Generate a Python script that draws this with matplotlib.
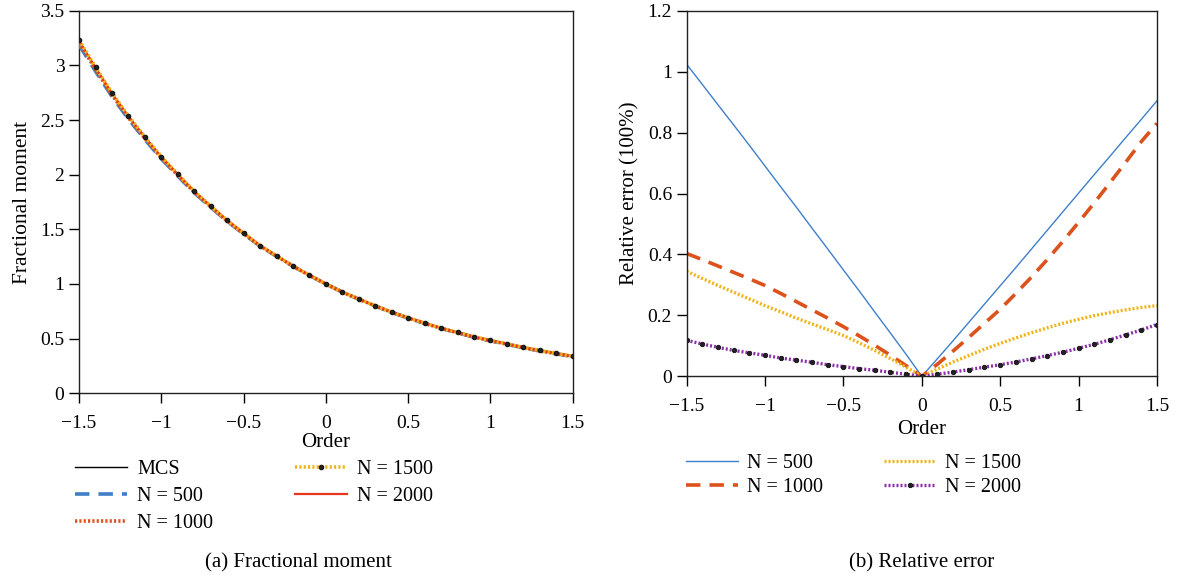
import matplotlib

matplotlib.use("Agg")
import matplotlib.pyplot as plt
import numpy as np

plt.rcParams["font.family"] = ["Liberation Serif", "DejaVu Serif"]
plt.rcParams["font.size"] = 14
plt.rcParams["axes.unicode_minus"] = True

order = np.round(np.arange(-1.5, 1.51, 0.1), 1)

# Monte Carlo reference of the fractional moment
mcs = [3.22, 2.975, 2.74, 2.53, 2.34, 2.16, 2.00, 1.845, 1.71, 1.58, 1.463,
       1.35, 1.256, 1.164, 1.079, 1.00, 0.926, 0.862, 0.80, 0.742, 0.69,
       0.642, 0.596, 0.556, 0.516, 0.483, 0.452, 0.419, 0.391, 0.364, 0.339]

# relative error (%) of each sample size
err_500 = [1.024, 0.958, 0.891, 0.825, 0.758, 0.690, 0.622, 0.555, 0.486,
           0.418, 0.349, 0.281, 0.211, 0.142, 0.072, 0.0, 0.058, 0.117, 0.177,
           0.237, 0.297, 0.357, 0.418, 0.479, 0.540, 0.601, 0.662, 0.722,
           0.783, 0.843, 0.904]
err_1000 = [0.403, 0.383, 0.362, 0.341, 0.320, 0.298, 0.272, 0.245, 0.218,
            0.191, 0.163, 0.133, 0.102, 0.069, 0.035, 0.0, 0.040, 0.083,
            0.128, 0.174, 0.220, 0.272, 0.326, 0.383, 0.443, 0.505, 0.569,
            0.635, 0.702, 0.770, 0.830]
err_1500 = [0.345, 0.321, 0.298, 0.276, 0.254, 0.232, 0.212, 0.191, 0.172,
            0.153, 0.134, 0.110, 0.085, 0.058, 0.030, 0.0, 0.024, 0.047,
            0.068, 0.089, 0.108, 0.126, 0.143, 0.159, 0.174, 0.187, 0.199,
            0.209, 0.218, 0.226, 0.232]
err_2000 = [0.118, 0.106, 0.095, 0.085, 0.077, 0.069, 0.060, 0.053, 0.046,
            0.038, 0.032, 0.025, 0.020, 0.013, 0.007, 0.0, 0.007, 0.014,
            0.022, 0.030, 0.038, 0.047, 0.057, 0.068, 0.079, 0.092, 0.105,
            0.120, 0.136, 0.152, 0.170]

mcs = np.array(mcs)
est_500 = mcs * (1 - np.array(err_500) / 100)
est_1000 = mcs * (1 - np.array(err_1000) / 100)
est_1500 = mcs * (1 + np.array(err_1500) / 100)
est_2000 = mcs * (1 + np.array(err_2000) / 100)

BLUE = "#3f7fc8"
ORANGE = "#dc521c"
YELLOW = "#f0b418"
PURPLE = "#8a2fa8"
RED = "#e6361e"

fig = plt.figure(figsize=(11.78, 5.81), dpi=100)
ax1 = fig.add_axes([0.0671, 0.3231, 0.4191, 0.6585])
ax2 = fig.add_axes([0.5829, 0.3523, 0.3992, 0.6293])


def style_axes(ax, xlabel_pad):
    ax.tick_params(direction="out", length=7, width=1, top=False, right=False)
    ax.tick_params(axis="x", pad=8.5)
    ax.tick_params(axis="y", pad=3.5)
    for sp in ax.spines.values():
        sp.set_linewidth(1.0)
        sp.set_color("#222222")
    ax.set_xlim(-1.5, 1.5)
    ax.set_xticks([-1.5, -1, -0.5, 0, 0.5, 1, 1.5])
    ax.set_xticklabels(["\u22121.5", "\u22121", "\u22120.5", "0", "0.5", "1", "1.5"])
    ax.set_xlabel("Order", fontsize=15, labelpad=xlabel_pad)


# (a) fractional moment
ax1.plot(order, mcs, color="black", lw=1.0, label="MCS", zorder=2)
ax1.plot(order, est_500, color=BLUE, lw=2.6, ls=(0, (4, 2.5)), label="N = 500", zorder=3)
ax1.plot(order, est_1000, color=ORANGE, lw=2.6, ls=(0, (0.6, 0.6)), label="N = 1000", zorder=3)
ax1.plot(order, est_1500, color=YELLOW, lw=2.6, ls=(0, (0.6, 0.6)), marker="o",
         ms=3.2, mfc="#222222", mec="#111111", mew=0.8, label="N = 1500", zorder=5)
ax1.plot(order, est_2000, color=RED, lw=1.6, label="N = 2000", zorder=4)
style_axes(ax1, 1)
ax1.set_ylim(0, 3.5)
ax1.set_yticks([0, 0.5, 1, 1.5, 2, 2.5, 3, 3.5])
ax1.set_yticklabels(["0", "0.5", "1", "1.5", "2", "2.5", "3", "3.5"])
ax1.set_ylabel("Fractional moment", fontsize=15.5, labelpad=6)
ax1.legend(loc="upper left", bbox_to_anchor=(0.0637, 0.208), bbox_transform=fig.transFigure,
           ncol=2, frameon=False, fontsize=14.5, handlelength=2.6, handletextpad=0.5,
           columnspacing=4.05, labelspacing=0.38, borderaxespad=0, borderpad=0)

# (b) relative error
ax2.plot(order, err_500, color=BLUE, lw=1.0, label="N = 500")
ax2.plot(order, err_1000, color=ORANGE, lw=2.6, ls=(0, (4, 2.5)), label="N = 1000")
ax2.plot(order, err_1500, color=YELLOW, lw=2.4, ls=(0, (0.6, 0.6)), label="N = 1500")
ax2.plot(order, err_2000, color=PURPLE, lw=2.4, ls=(0, (0.6, 0.6)), marker="o",
         ms=3.2, mfc="#222222", mec="#111111", mew=0.6, label="N = 2000")
style_axes(ax2, 3.5)
ax2.set_ylim(0, 1.2)
ax2.set_yticks([0, 0.2, 0.4, 0.6, 0.8, 1, 1.2])
ax2.set_yticklabels(["0", "0.2", "0.4", "0.6", "0.8", "1", "1.2"])
ax2.set_ylabel("Relative error (100%)", fontsize=15, labelpad=6)
ax2.legend(loc="upper left", bbox_to_anchor=(0.5823, 0.219), bbox_transform=fig.transFigure,
           ncol=2, frameon=False, fontsize=14.5, handlelength=2.6, handletextpad=0.45,
           columnspacing=3.0, labelspacing=0.25, borderaxespad=0, borderpad=0)

fig.text(0.253, 0.031, "(a) Fractional moment", ha="center", va="center", fontsize=15)
fig.text(0.782, 0.031, "(b) Relative error", ha="center", va="center", fontsize=15)

fig.savefig("out.png", dpi=100)
